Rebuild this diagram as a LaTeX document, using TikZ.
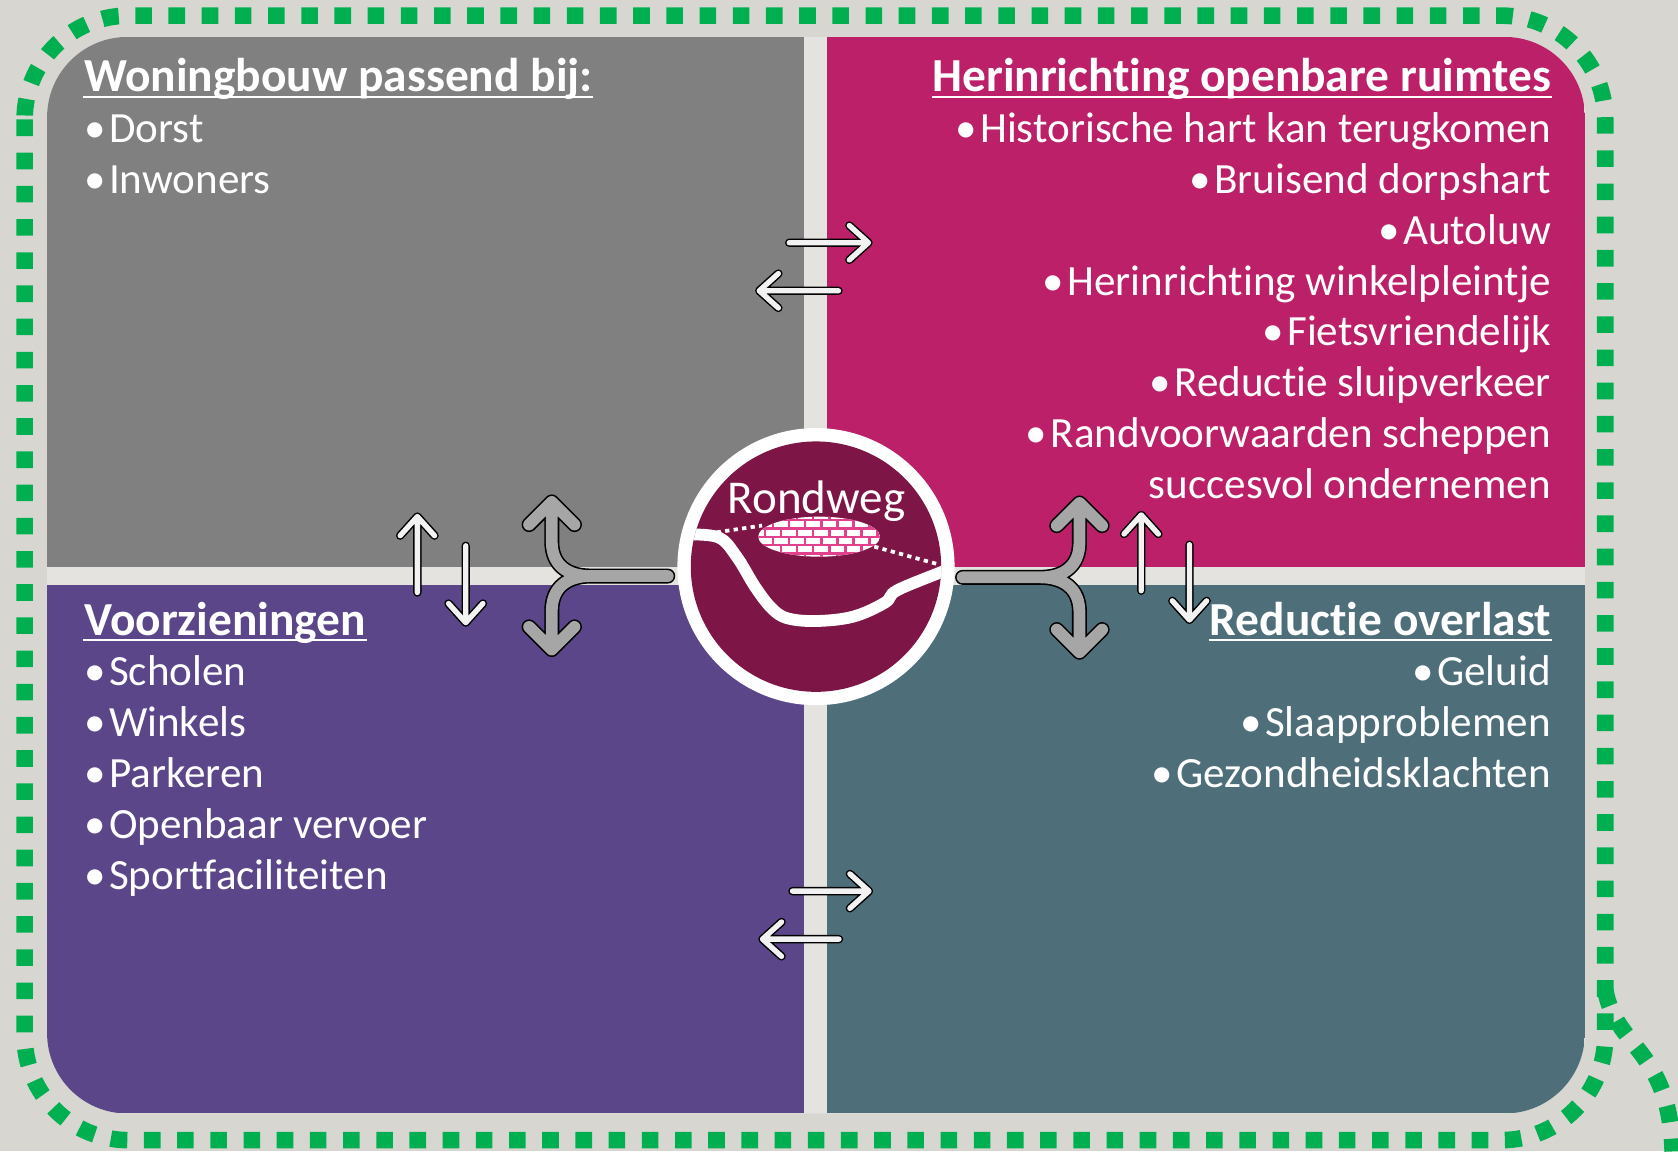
\documentclass[tikz,border=0pt]{standalone}
\usepackage{fontspec}
\setmainfont{Carlito}[Ligatures=NoCommon]
\usepackage{tikz}
\usetikzlibrary{calc}
\definecolor{Bg}{RGB}{216,214,209}
\definecolor{Gap}{RGB}{229,227,223}
\definecolor{Woning}{RGB}{128,128,128}
\definecolor{Herin}{RGB}{187,32,104}
\definecolor{Voorz}{RGB}{90,70,136}
\definecolor{Overlast}{RGB}{78,110,122}
\definecolor{Ring}{RGB}{125,22,70}
\definecolor{Groen}{RGB}{0,176,80}
\definecolor{Vork}{RGB}{166,166,166}
\definecolor{Steen}{RGB}{224,64,140}
\newcommand{\bol}{\textbullet\hspace{0.08em}}
\tikzset{
  head/.style={inner sep=0pt,text=white,font=\fontsize{12.6}{15}\selectfont\bfseries},
  item/.style={inner sep=0pt,text=white,font=\fontsize{11.45}{14}\selectfont},
  uline/.style={white,line width=0.02cm},
  wpijl/.style={line width=0.014cm,double=white!95!black,double distance=0.05cm,line cap=round,line join=round},
  vpijl/.style={line width=0.015cm,double=Vork,double distance=0.11cm,line cap=round,line join=round},
  border/.style={Groen,line width=0.155cm,dash pattern=on 0.155cm off 0.155cm},
}

\begin{document}
\begin{tikzpicture}[x=0.01cm,y=-0.01cm]
  % achtergrond
  \useasboundingbox (0,0) rectangle (1568,1076);
  \fill[Bg] (0,0) rectangle (1568,1076);
  % groene stippellijn
  \draw[border,rounded corners=0.97cm] (23,14.6) rectangle (1500,1065.4);
  \draw[border] (1500,925) .. controls (1510,980) and (1560,980) .. (1563,1076);
  % kwadranten
  \fill[Gap,rounded corners=0.75cm] (44,34.5) rectangle (1481,1040.5);
  \begin{scope}
    \clip[rounded corners=0.75cm] (44,34.5) rectangle (1481,1040.5);
    \fill[Woning] (44,34.5) rectangle (751.5,529.5);
    \fill[Herin] (773,34.5) rectangle (1481,529.5);
    \fill[Voorz] (44,546.7) rectangle (751.5,1040.5);
    \fill[Overlast] (773,546.7) rectangle (1481,1040.5);
  \end{scope}
  % teksten
  \node[head,anchor=base west] (woning) at (78,85.7) {Woningbouw passend bij:};
  \foreach \entry [count=\i] in {Dorst,Inwoners}
    \node[item,anchor=base west] (woning\i) at (78,{85.7+47.5*\i}) {\bol\entry};
  \node[head,anchor=base east] (herin) at (1450,85.7) {Herinrichting openbare ruimtes};
  \foreach \entry [count=\i] in {Historische hart kan terugkomen,Bruisend dorpshart,Autoluw,Herinrichting winkelpleintje,Fietsvriendelijk,Reductie sluipverkeer,Randvoorwaarden scheppen}
    \node[item,anchor=base east] (herin\i) at (1450,{85.7+47.5*\i}) {\bol\entry};
  \node[item,anchor=base east] (herin8) at (1450,{85.7+47.5*8}) {succesvol ondernemen};
  \node[head,anchor=base west] (voorz) at (78,593.5) {Voorzieningen};
  \foreach \entry [count=\i] in {Scholen,Winkels,Parkeren,Openbaar vervoer,Sportfaciliteiten}
    \node[item,anchor=base west] (voorz\i) at (78,{593.5+47.5*\i}) {\bol\entry};
  \node[head,anchor=base east] (overlast) at (1450,593.5) {Reductie overlast};
  \foreach \entry [count=\i] in {Geluid,Slaapproblemen,Gezondheidsklachten}
    \node[item,anchor=base east] (overlast\i) at (1450,{593.5+47.5*\i}) {\bol\entry};
  \foreach \n in {woning,herin,voorz,overlast}
    \draw[uline] ([yshift=-0.047cm]\n.base west) -- ([yshift=-0.047cm]\n.base east);
  % witte pijlen
  \foreach \xa/\ya/\xb/\yb in {737.5/226.8/811.5/226.8,783.5/271.7/709.5/271.7,740.5/832.7/812/832.7,784/877.6/712.5/877.6,390/553.7/390/482.7,435.2/510/435.2/581.8,1066.4/552/1066.4/481.2,1111.5/509/1111.5/579.3}
    \draw[wpijl] (\xa,\ya) -- (\xb,\yb) ($(\xb,\yb)!0.24cm!42:(\xa,\ya)$) -- (\xb,\yb) -- ($(\xb,\yb)!0.24cm!-42:(\xa,\ya)$);
  % grijze vorken
  \draw[vpijl] (624,538.3) -- (552,538.3) .. controls (530,538.3) and (515.6,528) .. (515.6,506) -- (515.6,469)
    (552,538.3) .. controls (530,538.3) and (515.6,549) .. (515.6,571) -- (515.6,607)
    (494.4,490.2) -- (515.6,469) -- (536.8,490.2)
    (494.4,585.8) -- (515.6,607) -- (536.8,585.8);
  \draw[vpijl] (899.5,539.5) -- (972,539.5) .. controls (994,539.5) and (1008.7,529) .. (1008.7,507) -- (1008.7,470)
    (972,539.5) .. controls (994,539.5) and (1008.7,550) .. (1008.7,572) -- (1008.7,609.5)
    (987.5,491.2) -- (1008.7,470) -- (1029.9,491.2)
    (987.5,588.3) -- (1008.7,609.5) -- (1029.9,588.3);
  % rondweg
  \fill[white] (762.5,529.5) circle[radius=129.5];
  \fill[Ring] (762.5,529.5) circle[radius=117];
  \begin{scope}
    \clip (762.5,529.5) circle[radius=117];
    \draw[white,line width=0.11cm,line cap=round] plot[smooth,tension=0.6] coordinates {(640,499.5) (671.2,502.1) (688.4,520.2) (705.5,548.2) (721.1,568.4) (736,577.8) (763.1,580.3) (797.4,576.2) (827,563.1) (837.9,551.9) (878.3,535.1) (892,530)};
    \draw[white,line width=0.035cm,dash pattern=on 0.04cm off 0.04cm] (669.7,497.4) -- (712.1,491.1) (816.9,510.8) -- (875.2,526.9);
    \fill[white] (765.4,501.5) ellipse[x radius=56.9,y radius=18.7];
    \clip (765.4,501.5) ellipse[x radius=56.9,y radius=18.7];
    \foreach \r in {0,...,5} {
      \draw[Steen,line width=0.022cm] (700,{478.1+7.8*\r}) -- (830,{478.1+7.8*\r});
      \foreach \c in {0,...,8}
        \draw[Steen,line width=0.022cm] ({700+15*\c+7.5*mod(\r,2)},{478.1+7.8*\r}) -- ++(0,7.8);
    }
  \end{scope}
  \node[inner sep=0pt,text=white,font=\fontsize{12.5}{15}\selectfont,anchor=base] (rondweg) at (763,480) {Rondweg};
\end{tikzpicture}
\end{document}
